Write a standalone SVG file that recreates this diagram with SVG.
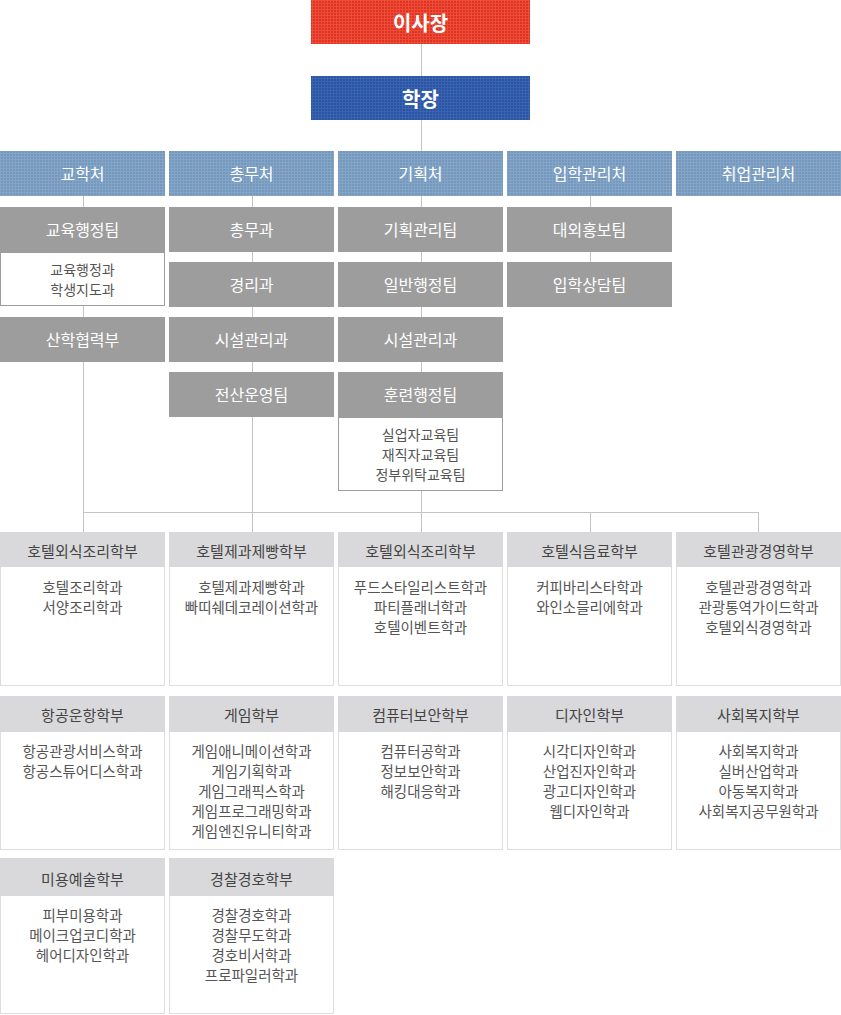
<svg xmlns="http://www.w3.org/2000/svg" width="841" height="1015" viewBox="0 0 841 1015">
<defs>
<pattern id="gRed" width="3" height="3" patternUnits="userSpaceOnUse"><rect width="3" height="3" fill="#e2321f"/><path d="M0 0.5H3M0.5 0V3" stroke="#ea4e3b" stroke-width="1"/></pattern>
<pattern id="gBlue" width="3" height="3" patternUnits="userSpaceOnUse"><rect width="3" height="3" fill="#2a55a4"/><path d="M0 0.5H3M0.5 0V3" stroke="#3a63b0" stroke-width="1"/></pattern>
<pattern id="gSky" width="3" height="3" patternUnits="userSpaceOnUse"><rect width="3" height="3" fill="#7498bd"/><path d="M0 0.5H3M0.5 0V3" stroke="#84a5c6" stroke-width="1"/></pattern>
</defs>
<style>
text{font-family:"Noto Sans CJK KR","Liberation Sans",sans-serif;text-anchor:middle;dominant-baseline:central}
.t1{fill:#fff;font-size:20px;font-weight:bold}
.tm{fill:#fff;font-size:16px}
.gray{fill:#9d9d9d}
.sub{fill:#fff;stroke:#9d9d9d;stroke-width:1}
.st{fill:#555;font-size:14px}
.card{fill:#fff;stroke:#dedede;stroke-width:1}
.hd{fill:#d9d9db}
.ht{fill:#444;font-size:15px}
.bt{fill:#555;font-size:14.5px}
.ln{stroke:#c4c4c4;stroke-width:1;fill:none}
</style>
<g id="connectors">
<path class="ln" d="M421.5 44V532M83.5 196V512M252.5 196V532M590.5 196V262M83.5 512.5H758.5M83.5 512V532M590.5 512V532M758.5 512V532"/>
</g>
<g id="n-chairman"><rect x="311" y="0" width="219" height="44" fill="url(#gRed)"/><text class="t1" x="420.5" y="22">이사장</text></g>
<g id="n-president"><rect x="311" y="76" width="219" height="44" fill="url(#gBlue)"/><text class="t1" x="420.5" y="98">학장</text></g>
<g id="n-d1"><rect x="0" y="151" width="165" height="45" fill="url(#gSky)"/><text class="tm" x="82.5" y="173">교학처</text></g>
<g id="n-d2"><rect x="169" y="151" width="165" height="45" fill="url(#gSky)"/><text class="tm" x="251.5" y="173">총무처</text></g>
<g id="n-d3"><rect x="338" y="151" width="165" height="45" fill="url(#gSky)"/><text class="tm" x="420.5" y="173">기획처</text></g>
<g id="n-d4"><rect x="507" y="151" width="165" height="45" fill="url(#gSky)"/><text class="tm" x="589.5" y="173">입학관리처</text></g>
<g id="n-d5"><rect x="676" y="151" width="165" height="45" fill="url(#gSky)"/><text class="tm" x="758.5" y="173">취업관리처</text></g>
<g id="n-t11"><rect class="gray" x="0" y="207" width="165" height="45"/><text class="tm" x="82.5" y="229">교육행정팀</text>
<rect class="sub" x="0.5" y="252.5" width="164" height="53"/><text class="st" x="82.5" y="269">교육행정과</text><text class="st" x="82.5" y="289">학생지도과</text></g>
<g id="n-t12"><rect class="gray" x="0" y="317" width="165" height="45"/><text class="tm" x="82.5" y="339">산학협력부</text></g>
<g id="n-t21"><rect class="gray" x="169" y="207" width="165" height="45"/><text class="tm" x="251.5" y="229">총무과</text></g>
<g id="n-t22"><rect class="gray" x="169" y="262" width="165" height="45"/><text class="tm" x="251.5" y="284">경리과</text></g>
<g id="n-t23"><rect class="gray" x="169" y="317" width="165" height="45"/><text class="tm" x="251.5" y="339">시설관리과</text></g>
<g id="n-t24"><rect class="gray" x="169" y="372" width="165" height="45"/><text class="tm" x="251.5" y="394">전산운영팀</text></g>
<g id="n-t31"><rect class="gray" x="338" y="207" width="165" height="45"/><text class="tm" x="420.5" y="229">기획관리팀</text></g>
<g id="n-t32"><rect class="gray" x="338" y="262" width="165" height="45"/><text class="tm" x="420.5" y="284">일반행정팀</text></g>
<g id="n-t33"><rect class="gray" x="338" y="317" width="165" height="45"/><text class="tm" x="420.5" y="339">시설관리과</text></g>
<g id="n-t34"><rect class="gray" x="338" y="372" width="165" height="45"/><text class="tm" x="420.5" y="394">훈련행정팀</text>
<rect class="sub" x="338.5" y="417.5" width="164" height="73"/><text class="st" x="420.5" y="434">실업자교육팀</text><text class="st" x="420.5" y="454">재직자교육팀</text><text class="st" x="420.5" y="474">정부위탁교육팀</text></g>
<g id="n-t41"><rect class="gray" x="507" y="207" width="165" height="45"/><text class="tm" x="589.5" y="229">대외홍보팀</text></g>
<g id="n-t42"><rect class="gray" x="507" y="262" width="165" height="45"/><text class="tm" x="589.5" y="284">입학상담팀</text></g>

<g id="c1"><rect class="card" x="0.5" y="532.5" width="164" height="153"/><rect class="hd" x="0" y="532" width="165" height="35"/><text class="ht" x="82.5" y="550">호텔외식조리학부</text><text class="bt" x="82.5" y="586">호텔조리학과</text><text class="bt" x="82.5" y="606">서양조리학과</text></g>
<g id="c2"><rect class="card" x="169.5" y="532.5" width="164" height="153"/><rect class="hd" x="169" y="532" width="165" height="35"/><text class="ht" x="251.5" y="550">호텔제과제빵학부</text><text class="bt" x="251.5" y="586">호텔제과제빵학과</text><text class="bt" x="251.5" y="606">빠띠쉐데코레이션학과</text></g>
<g id="c3"><rect class="card" x="338.5" y="532.5" width="164" height="153"/><rect class="hd" x="338" y="532" width="165" height="35"/><text class="ht" x="420.5" y="550">호텔외식조리학부</text><text class="bt" x="420.5" y="586">푸드스타일리스트학과</text><text class="bt" x="420.5" y="606">파티플래너학과</text><text class="bt" x="420.5" y="626">호텔이벤트학과</text></g>
<g id="c4"><rect class="card" x="507.5" y="532.5" width="164" height="153"/><rect class="hd" x="507" y="532" width="165" height="35"/><text class="ht" x="589.5" y="550">호텔식음료학부</text><text class="bt" x="589.5" y="586">커피바리스타학과</text><text class="bt" x="589.5" y="606">와인소믈리에학과</text></g>
<g id="c5"><rect class="card" x="676.5" y="532.5" width="164" height="153"/><rect class="hd" x="676" y="532" width="165" height="35"/><text class="ht" x="758.5" y="550">호텔관광경영학부</text><text class="bt" x="758.5" y="586">호텔관광경영학과</text><text class="bt" x="758.5" y="606">관광통역가이드학과</text><text class="bt" x="758.5" y="626">호텔외식경영학과</text></g>

<g id="c6"><rect class="card" x="0.5" y="696.5" width="164" height="153"/><rect class="hd" x="0" y="696" width="165" height="36"/><text class="ht" x="82.5" y="714">항공운항학부</text><text class="bt" x="82.5" y="750">항공관광서비스학과</text><text class="bt" x="82.5" y="770">항공스튜어디스학과</text></g>
<g id="c7"><rect class="card" x="169.5" y="696.5" width="164" height="153"/><rect class="hd" x="169" y="696" width="165" height="36"/><text class="ht" x="251.5" y="714">게임학부</text><text class="bt" x="251.5" y="750">게임애니메이션학과</text><text class="bt" x="251.5" y="770">게임기획학과</text><text class="bt" x="251.5" y="790">게임그래픽스학과</text><text class="bt" x="251.5" y="810">게임프로그래밍학과</text><text class="bt" x="251.5" y="830">게임엔진유니티학과</text></g>
<g id="c8"><rect class="card" x="338.5" y="696.5" width="164" height="153"/><rect class="hd" x="338" y="696" width="165" height="36"/><text class="ht" x="420.5" y="714">컴퓨터보안학부</text><text class="bt" x="420.5" y="750">컴퓨터공학과</text><text class="bt" x="420.5" y="770">정보보안학과</text><text class="bt" x="420.5" y="790">해킹대응학과</text></g>
<g id="c9"><rect class="card" x="507.5" y="696.5" width="164" height="153"/><rect class="hd" x="507" y="696" width="165" height="36"/><text class="ht" x="589.5" y="714">디자인학부</text><text class="bt" x="589.5" y="750">시각디자인학과</text><text class="bt" x="589.5" y="770">산업진자인학과</text><text class="bt" x="589.5" y="790">광고디자인학과</text><text class="bt" x="589.5" y="810">웹디자인학과</text></g>
<g id="c10"><rect class="card" x="676.5" y="696.5" width="164" height="153"/><rect class="hd" x="676" y="696" width="165" height="36"/><text class="ht" x="758.5" y="714">사회복지학부</text><text class="bt" x="758.5" y="750">사회복지학과</text><text class="bt" x="758.5" y="770">실버산업학과</text><text class="bt" x="758.5" y="790">아동복지학과</text><text class="bt" x="758.5" y="810">사회복지공무원학과</text></g>

<g id="c11"><rect class="card" x="0.5" y="858.5" width="164" height="155"/><rect class="hd" x="0" y="858" width="165" height="38"/><text class="ht" x="82.5" y="878">미용예술학부</text><text class="bt" x="82.5" y="914">피부미용학과</text><text class="bt" x="82.5" y="934">메이크업코디학과</text><text class="bt" x="82.5" y="954">헤어디자인학과</text></g>
<g id="c12"><rect class="card" x="169.5" y="858.5" width="164" height="155"/><rect class="hd" x="169" y="858" width="165" height="38"/><text class="ht" x="251.5" y="878">경찰경호학부</text><text class="bt" x="251.5" y="914">경찰경호학과</text><text class="bt" x="251.5" y="934">경찰무도학과</text><text class="bt" x="251.5" y="954">경호비서학과</text><text class="bt" x="251.5" y="974">프로파일러학과</text></g>
</svg>
